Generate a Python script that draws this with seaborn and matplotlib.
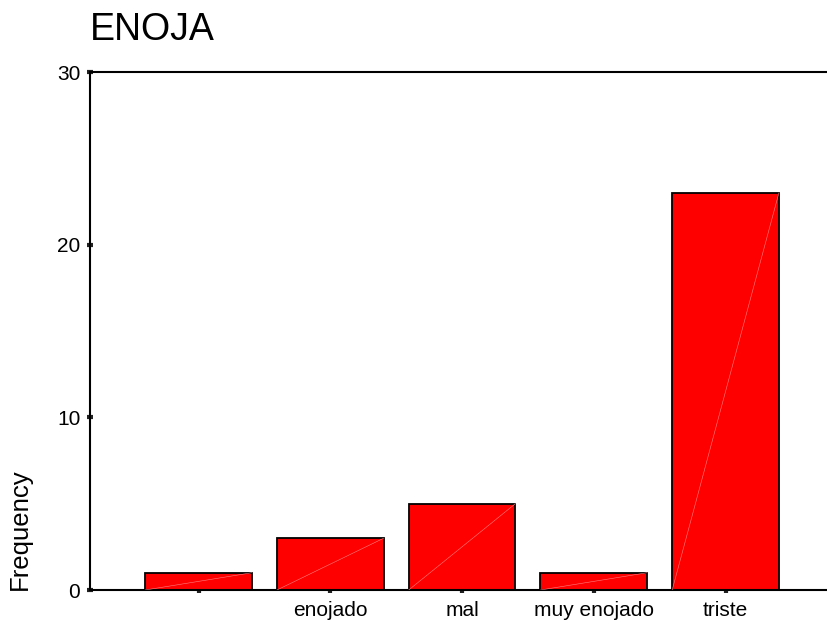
import matplotlib
matplotlib.use("Agg")
import matplotlib.pyplot as plt
import seaborn as sns
import pandas as pd

categories = ["", "enojado", "mal", "muy enojado", "triste"]
counts = [1, 3, 5, 1, 23]
yticks = [0, 10, 20, 30]

sns.set_style("white")
plt.rcParams["font.family"] = ["Liberation Sans", "DejaVu Sans"]
plt.rcParams["text.color"] = "black"

df = pd.DataFrame({"ENOJA": categories, "Frequency": counts})

fig = plt.figure(figsize=(8.27, 6.25), dpi=100)
ax = fig.add_axes([90 / 827, 35 / 625, 1 - 90 / 827, (590 - 72) / 625])

w = 0.81
sns.barplot(data=df, x="ENOJA", y="Frequency", order=categories, color="#ff0000",
            saturation=1, width=w, edgecolor="black", linewidth=1.3, ax=ax)

# faint diagonal streak inside each bar
for i, v in enumerate(counts):
    ax.plot([i - w / 2, i + w / 2], [0, v], color="#ff8080", lw=0.4, zorder=3)

ax.set_xlim(-0.824, 4.77)
ax.set_ylim(0, 30)
ax.set_yticks(yticks)
ax.set_xlabel("")
ax.set_ylabel("")
ax.tick_params(axis="both", direction="inout", length=4, width=3, color="#222222",
               labelsize=15, labelcolor="black", bottom=True, left=True)
ax.tick_params(axis="x", pad=6)
ax.tick_params(axis="y", pad=5)

for side in ["left", "top", "bottom"]:
    ax.spines[side].set_visible(True)
    ax.spines[side].set_color("black")
    ax.spines[side].set_linewidth(1.5)
ax.spines["right"].set_visible(False)

fig.text(90 / 827, (625 - 40) / 625, "ENOJA", fontsize=27, color="black",
         ha="left", va="baseline")
fig.text(20 / 827, 35 / 625, "Frequency", fontsize=18.5, color="black", rotation=90,
         ha="center", va="bottom")

fig.savefig("out.png", dpi=100)
